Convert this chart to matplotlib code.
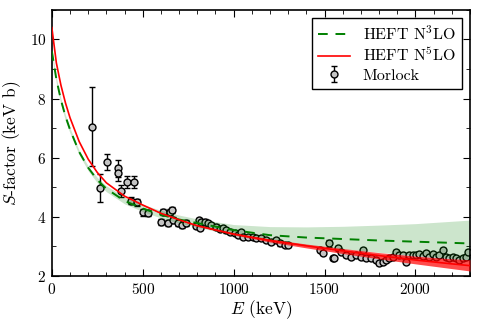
import matplotlib
matplotlib.use("Agg")
import matplotlib.pyplot as plt
from matplotlib.ticker import MultipleLocator

plt.rcParams['font.family'] = 'serif'
plt.rcParams['font.serif'] = ['cmr10']
plt.rcParams['mathtext.fontset'] = 'cm'
plt.rcParams['axes.formatter.use_mathtext'] = True
plt.rcParams['font.size'] = 11

# theory curves (keV, keV b)
e_curve = [0, 25, 50, 75, 100, 150, 200, 250, 300, 400, 500, 600, 700, 800,
           1000, 1200, 1400, 1600, 1800, 2000, 2200, 2300]
n5lo = [10.4, 9.2, 8.45, 7.85, 7.35, 6.55, 5.95, 5.5, 5.15, 4.7, 4.4, 4.12, 3.9,
        3.7, 3.42, 3.2, 3.02, 2.85, 2.69, 2.54, 2.41, 2.35]
n5lo_lo = [10.4, 9.2, 8.45, 7.85, 7.35, 6.55, 5.95, 5.5, 5.15, 4.7, 4.39, 4.11, 3.89,
           3.68, 3.39, 3.15, 2.95, 2.76, 2.58, 2.41, 2.25, 2.17]
n5lo_hi = [10.4, 9.2, 8.45, 7.85, 7.35, 6.55, 5.95, 5.5, 5.15, 4.7, 4.41, 4.13, 3.91,
           3.72, 3.45, 3.25, 3.08, 2.93, 2.79, 2.67, 2.58, 2.55]
n3lo = [9.6, 8.65, 7.95, 7.4, 6.95, 6.2, 5.66, 5.25, 4.95, 4.54, 4.28, 4.07, 3.91,
        3.79, 3.55, 3.38, 3.3, 3.25, 3.2, 3.16, 3.12, 3.1]
n3lo_lo = [9.45, 8.5, 7.8, 7.25, 6.83, 6.1, 5.56, 5.15, 4.85, 4.44, 4.18, 3.96, 3.79,
           3.65, 3.38, 3.2, 3.05, 2.92, 2.8, 2.7, 2.6, 2.55]
n3lo_hi = [9.65, 8.7, 8.0, 7.45, 7.0, 6.25, 5.72, 5.33, 5.05, 4.67, 4.42, 4.22, 4.06,
           3.93, 3.74, 3.67, 3.66, 3.68, 3.72, 3.77, 3.85, 3.89]

# Morlock data
e_data = [221, 264, 304, 364, 366, 383, 416, 452, 438, 471, 502, 529, 603, 612,
          639, 648, 663, 667, 694, 718, 740, 795, 808, 813, 822, 841, 859, 877,
          905, 923, 941, 960, 978, 1005, 1024, 1042, 1051, 1079, 1106, 1125,
          1152, 1180, 1207, 1235, 1253, 1280, 1298,
          1473, 1491, 1527, 1546, 1555, 1573, 1592, 1619, 1647, 1674, 1702, 1714,
          1729, 1757, 1784, 1802, 1821, 1839, 1857, 1876, 1894, 1912, 1930, 1949,
          1967, 1985, 2004, 2022, 2040, 2059, 2077, 2095, 2114, 2132, 2154, 2168,
          2187, 2205, 2223, 2242, 2260, 2278, 2290]
s_data = [7.05, 4.97, 5.84, 5.64, 5.47, 4.88, 5.19, 5.19, 4.55, 4.5, 4.15, 4.12,
          3.83, 4.15, 3.78, 4.17, 4.22, 3.89, 3.78, 3.72, 3.78, 3.7, 3.89, 3.63,
          3.81, 3.83, 3.78, 3.72, 3.67, 3.59, 3.61, 3.55, 3.5, 3.44, 3.39, 3.5,
          3.33, 3.33, 3.33, 3.27, 3.27, 3.22, 3.16, 3.22, 3.1, 3.05, 3.05,
          2.88, 2.77, 3.1, 2.6, 2.62, 2.96, 2.82, 2.71, 2.65, 2.72, 2.65, 2.88,
          2.6, 2.6, 2.54, 2.45, 2.48, 2.54, 2.6, 2.65, 2.82, 2.71, 2.71, 2.48,
          2.71, 2.71, 2.7, 2.73, 2.68, 2.77, 2.65, 2.75, 2.65, 2.71, 2.88, 2.65,
          2.6, 2.65, 2.6, 2.54, 2.6, 2.65, 2.8]
s_err = [1.33, 0.48, 0.27, 0.28, 0.25, 0.2, 0.2, 0.2, 0.12, 0.12, 0.12, 0.1,
         0.1, 0.1, 0.1, 0.1, 0.1, 0.1, 0.1, 0.1, 0.1, 0.08, 0.08, 0.08,
         0.08, 0.08, 0.08, 0.08, 0.08, 0.08, 0.08, 0.08, 0.08, 0.07, 0.07, 0.07,
         0.07, 0.07, 0.07, 0.07, 0.07, 0.07, 0.07, 0.07, 0.07, 0.07, 0.07,
         0.07, 0.07, 0.12, 0.07, 0.07, 0.07, 0.07, 0.07, 0.07, 0.07, 0.07, 0.07,
         0.07, 0.07, 0.07, 0.07, 0.07, 0.07, 0.07, 0.07, 0.07, 0.07, 0.07, 0.07,
         0.07, 0.07, 0.07, 0.07, 0.07, 0.07, 0.07, 0.07, 0.07, 0.07, 0.07, 0.07,
         0.07, 0.07, 0.07, 0.07, 0.07, 0.07, 0.07]

fig = plt.figure(figsize=(4.8, 3.27), dpi=100)
ax = fig.add_axes([0.108, 0.156, 0.871, 0.814])

# data first, bands drawn over it
ax.errorbar(e_data, s_data, yerr=s_err, fmt='o', color='black', ms=5,
            mfc='#c4c4c4', mec='black', mew=1, elinewidth=1, capsize=2,
            capthick=1, zorder=1, label='Morlock')

ax.fill_between(e_curve, n3lo_lo, n3lo_hi, color='green', alpha=0.2, lw=0, zorder=2)
ax.fill_between(e_curve, n5lo_lo, n5lo_hi, color='red', alpha=0.7, lw=0, zorder=3)
ax.plot(e_curve, n3lo, color='green', ls=(0, (5, 4)), lw=1.4, zorder=4,
        label=r'HEFT N$^3$LO')
ax.plot(e_curve, n5lo, color='red', lw=1.2, zorder=5, label=r'HEFT N$^5$LO')

ax.set_xlim(0, 2300)
ax.set_ylim(2, 11)
ax.xaxis.set_major_locator(MultipleLocator(500))
ax.xaxis.set_minor_locator(MultipleLocator(100))
ax.yaxis.set_major_locator(MultipleLocator(2))
ax.yaxis.set_minor_locator(MultipleLocator(1))
ax.tick_params(which='both', direction='in', top=True, right=True)
ax.tick_params(which='major', length=5, pad=4)
ax.tick_params(which='minor', length=3)
for sp in ax.spines.values():
    sp.set_linewidth(1.2)

ax.set_xlabel(r'$E$ (keV)', fontsize=12.5, labelpad=1)
ax.set_ylabel(r'$S$-factor (keV b)', fontsize=12.5, labelpad=5)

h, l = ax.get_legend_handles_labels()
leg = ax.legend(h, l, loc='upper right', fancybox=False, edgecolor='black',
                framealpha=1, borderaxespad=0.5, handlelength=2.0,
                labelspacing=0.25, fontsize=11.5)
leg.get_frame().set_linewidth(1)

fig.savefig('out.png', dpi=100)
